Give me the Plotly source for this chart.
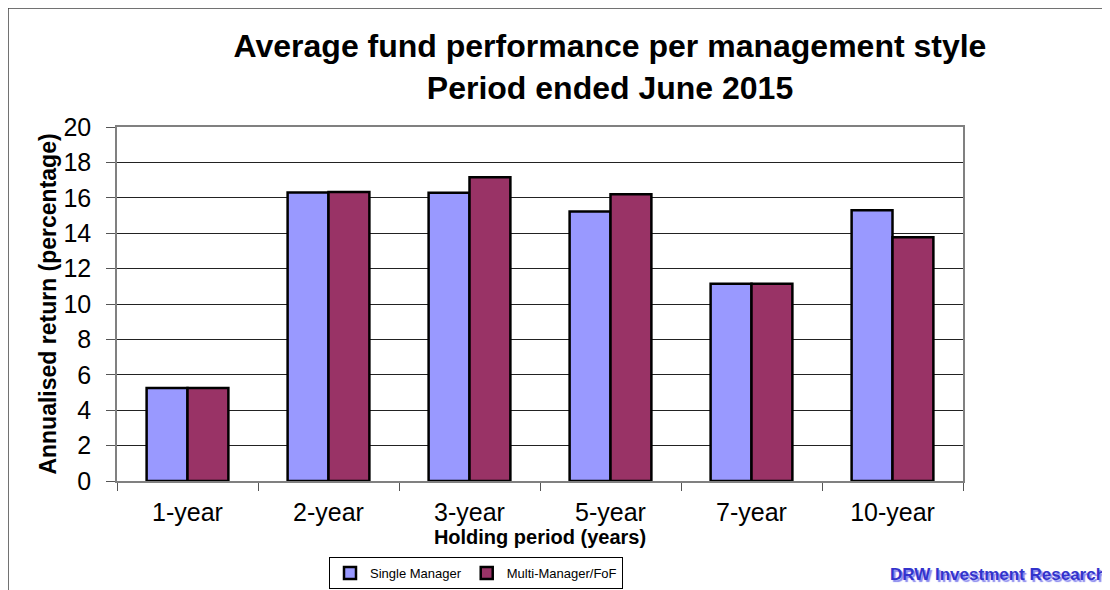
import plotly.graph_objects as go

categories = ["1-year", "2-year", "3-year", "5-year", "7-year", "10-year"]
single_manager = [5.25, 16.3, 16.28, 15.23, 11.15, 15.3]
multi_manager = [5.25, 16.33, 17.16, 16.2, 11.15, 13.77]
y_ticks = [0, 2, 4, 6, 8, 10, 12, 14, 16, 18, 20]

# page body has an 8px margin; work in reference pixel coordinates and shift
OFF = 8
FW, FH = 1110 - OFF, 590 - OFF
L, R, T, B = 117 - OFF, 963 - OFF, 127 - OFF, 481 - OFF
W, H = R - L, B - T


def px(x):
    return (x - OFF - L) / W


def py(y):
    return (B - (y - OFF)) / H


fig = go.Figure()
fig.add_trace(go.Bar(name="Single Manager", x=categories, y=single_manager,
                     marker=dict(color="#9999FF", line=dict(color="black", width=2.5))))
fig.add_trace(go.Bar(name="Multi-Manager/FoF", x=categories, y=multi_manager,
                     marker=dict(color="#993366", line=dict(color="black", width=2.5))))

fig.update_layout(
    width=FW, height=FH,
    margin=dict(l=L, r=FW - R, t=T, b=FH - B, autoexpand=False),
    paper_bgcolor="white", plot_bgcolor="white",
    font=dict(family="Liberation Sans, Arial, sans-serif", color="black"),
    barmode="group", bargap=0.42, bargroupgap=0,
    title=dict(text="<b>Average fund performance per management style<br>Period ended June 2015</b>",
               x=(610 - OFF) / FW, xref="container", xanchor="center",
               y=1 - (57 - OFF) / FH, yref="container", yanchor="middle",
               font=dict(size=32), automargin=False),
    xaxis=dict(tickfont=dict(size=25), tickson="boundaries", ticks="outside", ticklen=8,
               tickcolor="#555", showline=True, linecolor="#808080", linewidth=1.5,
               mirror=True, automargin=False, ticklabelstandoff=8,
               title=dict(text="<b>Holding period (years)</b>", font=dict(size=20), standoff=5)),
    yaxis=dict(range=[0, 20], tickvals=y_ticks, tickfont=dict(size=25), ticks="outside",
               ticklen=9, tickcolor="#555", showline=True, linecolor="#808080", linewidth=1.5,
               mirror=True, showgrid=True, gridcolor="#222", gridwidth=1, automargin=False,
               zeroline=False, ticklabelstandoff=10,
               title=dict(text="<b>Annualised return (percentage)</b>", font=dict(size=23), standoff=0)),
    legend=dict(orientation="h", x=px(329), xanchor="left", y=py(557), yanchor="top",
                bordercolor="black", borderwidth=1, font=dict(size=13),
                itemwidth=30, traceorder="normal"),
    showlegend=True,
)

fig.add_shape(type="rect", xref="paper", yref="paper",
              x0=px(8), x1=px(1125), y0=py(605), y1=py(8),
              line=dict(color="#444", width=1.5), fillcolor="rgba(0,0,0,0)", layer="below")

fig.add_annotation(text="<b>DRW Investment Research</b>", xref="paper", yref="paper",
                   x=px(1108), y=py(574), xanchor="right", yanchor="middle", showarrow=False,
                   font=dict(family="Liberation Sans, Arial, sans-serif", size=17,
                             color="#3333CC", shadow="2px 2px 1px #8888EE"))

fig.write_html("out.html")
